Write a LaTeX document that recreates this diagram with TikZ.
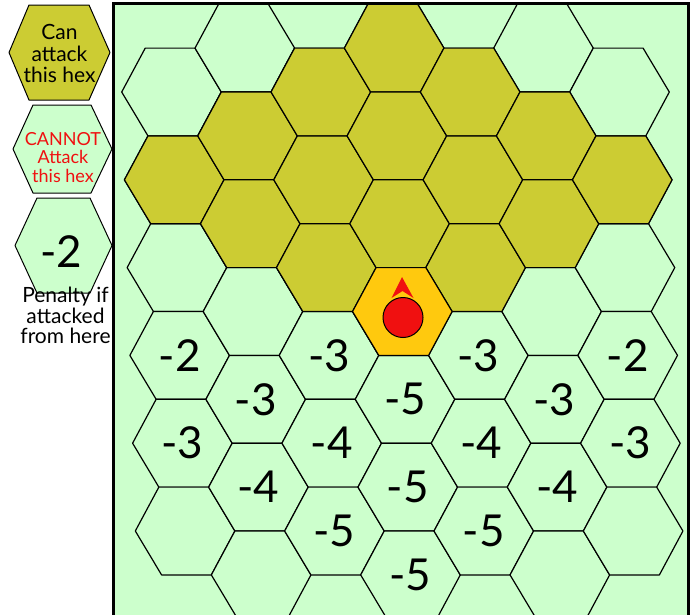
\documentclass[tikz,border=0pt]{standalone}
\usepackage{fontspec}
\setmainfont{Lato}
\definecolor{nohex}{RGB}{204,255,204}
\definecolor{canhex}{RGB}{204,204,51}
\definecolor{unithex}{RGB}{255,201,14}
\definecolor{unitred}{RGB}{240,16,16}
% one board hex around a centre
\newcommand{\hexcell}[3]{\draw[cell, fill=#1] (#2,#3) ++(-49.8,0) -- ++(24.9,-43.9) -- ++(49.8,0)
  -- ++(24.9,43.9) -- ++(-24.9,43.9) -- ++(-49.8,0) -- cycle;}

\begin{document}
\begin{tikzpicture}[
  x=1pt, y=-1pt,
  cell/.style = {draw=black, line width=1.2pt, line join=round},
  key/.style = {draw=black, line width=1pt, line join=round},
  num/.style = {font=\fontsize{44}{44}\selectfont, inner sep=0pt},
  keytxt/.style = {font=\fontsize{21}{21.5}\selectfont, align=center, inner sep=0pt}
]
  \useasboundingbox (0,0) rectangle (690,614);

  % key on the left
  \draw[key, fill=canhex] (9,52.5) -- (29,5) -- (89,5) -- (110,52.5) -- (89,100) -- (29,100) -- cycle;
  \node[keytxt] (can) at (59.5,53.5) {Can\\attack\\this hex};
  \draw[key, fill=nohex] (13,149) -- (33,105) -- (91,105) -- (112,149) -- (91,193) -- (33,193) -- cycle;
  \node[keytxt, text=unitred, font=\fontsize{18}{18.5}\selectfont] (cannot) at (63,157.5) {CANNOT\\Attack\\this hex};
  \draw[key, fill=nohex] (15,245.5) -- (37,198) -- (90,198) -- (112,245.5) -- (90,293) -- (37,293) -- cycle;
  \node[num] (keypen) at (61.5,252) {-2};
  \node[keytxt, font=\fontsize{21}{20.5}\selectfont] (penalty) at (65.5,315.5) {Penalty if\\attacked\\from here};

  % board
  \begin{scope}
    \clip (0,0) rectangle (690,614);
    \fill[nohex] (113,3.5) rectangle (688,650);
    \begin{scope}[shift={(-2.85,0)}, xslant=-0.031]
      % all hexes, even columns start higher
      \foreach \col in {1,...,7}{
        \pgfmathsetmacro\hx{171.5+74.67*(\col-1)}
        \pgfmathsetmacro\hy{92-43.9*mod(\col+1,2)}
        \pgfmathtruncatemacro\nrow{5+mod(\col+1,2)}
        \foreach \row in {0,...,\nrow}{
          \hexcell{nohex}{\hx}{\hy+87.8*\row}
        }
      }
      % hexes in the arc of fire
      \foreach \col/\row in {1/1, 2/1, 2/2, 3/0, 3/1, 3/2, 4/0, 4/1, 4/2, 5/0, 5/1, 5/2, 6/1, 6/2, 7/1}{
        \pgfmathsetmacro\hx{171.5+74.67*(\col-1)}
        \pgfmathsetmacro\hy{92-43.9*mod(\col+1,2)}
        \hexcell{canhex}{\hx}{\hy+87.8*\row}
      }
      \hexcell{unithex}{395.51}{311.5}
      % penalties
      \foreach \col/\row/\val in {1/3/-2, 1/4/-3, 2/4/-3, 2/5/-4, 3/3/-3, 3/4/-4, 3/5/-5,
        4/4/-5, 4/5/-5, 4/6/-5, 5/3/-3, 5/4/-4, 5/5/-5, 6/4/-3, 6/5/-4, 7/3/-2, 7/4/-3}{
        \pgfmathsetmacro\hx{171.5+74.67*(\col-1)}
        \pgfmathsetmacro\hy{92-43.9*mod(\col+1,2)}
        \node[num] (pen-\col-\row) at (\hx,\hy+87.8*\row) {\val};
      }
    \end{scope}
    \draw[line width=3pt] (113,3.5) rectangle (688,650);
  \end{scope}

  % unit and its facing
  \fill[unitred] (402,277) -- (413.5,298) -- (402.5,291) -- (391.5,298) -- cycle;
  \draw[fill=unitred, line width=1pt] (403,317.5) circle (20);
\end{tikzpicture}
\end{document}
